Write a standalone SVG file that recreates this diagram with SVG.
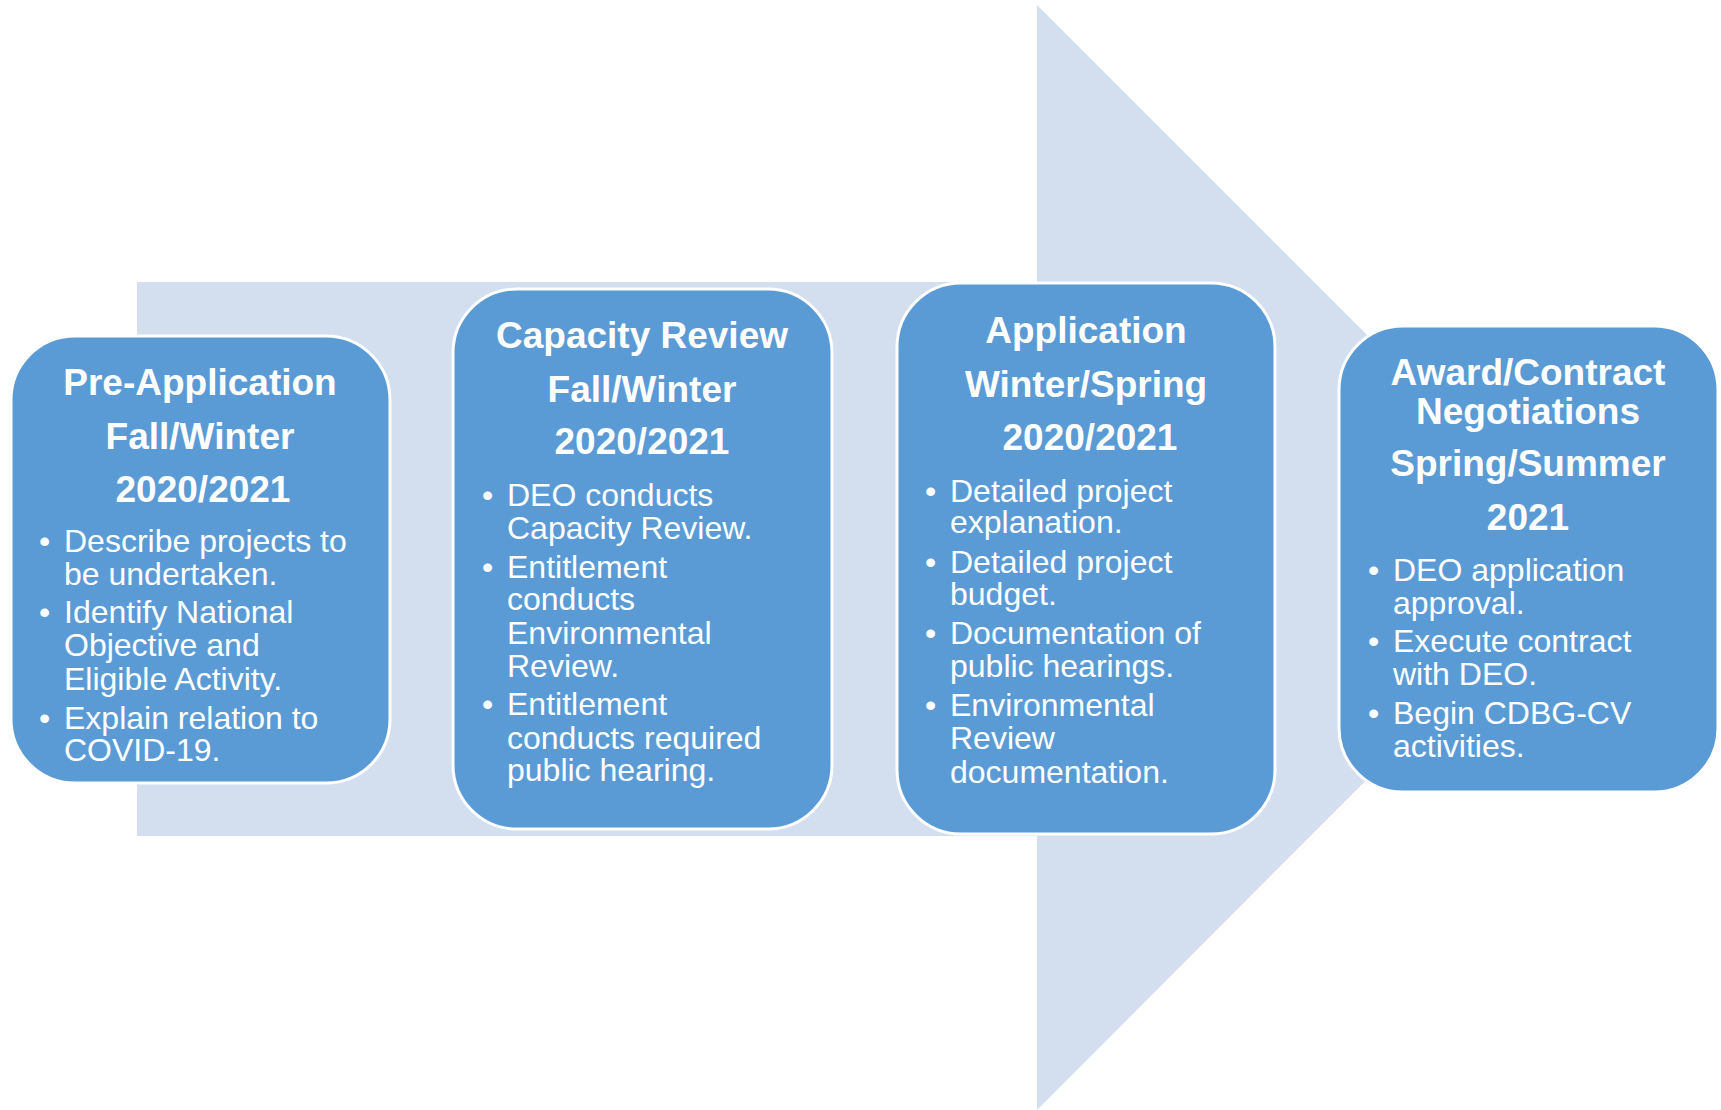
<svg xmlns="http://www.w3.org/2000/svg" width="1721" height="1110" viewBox="0 0 1721 1110">
<style>
.box{fill:#5B9BD5;stroke:#FFFFFF;stroke-width:3}
.arrow{fill:#D3DEEF}
.t{font-family:"Liberation Sans",Arial,sans-serif;font-weight:bold;font-size:37px;fill:#FFFFFF;text-anchor:middle}
.b{font-family:"Liberation Sans",Arial,sans-serif;font-size:32px;fill:#FFFFFF}
</style>
<rect width="1721" height="1110" fill="#FFFFFF"/>
<g id="connectors">
<path class="arrow" d="M137,282 L1037,282 L1037,5 L1589,557 L1037,1110 L1037,836 L137,836 Z"/>
</g>
<g id="pre-application">
<rect class="box" x="11" y="336" width="379" height="447" rx="64" ry="64"/>
<text class="t" x="200" y="395">Pre-Application</text>
<text class="t" x="200" y="449">Fall/Winter</text>
<text class="t" x="203" y="502">2020/2021</text>
<text class="b" x="39" y="552">•</text><text class="b" x="64" y="552">Describe projects to</text>
<text class="b" x="64" y="585">be undertaken.</text>
<text class="b" x="39" y="623">•</text><text class="b" x="64" y="623">Identify National</text>
<text class="b" x="64" y="656">Objective and</text>
<text class="b" x="64" y="690">Eligible Activity.</text>
<text class="b" x="39" y="729">•</text><text class="b" x="64" y="729">Explain relation to</text>
<text class="b" x="64" y="761">COVID-19.</text>
</g>
<g id="capacity-review">
<rect class="box" x="453" y="289" width="379" height="540" rx="64" ry="64"/>
<text class="t" x="642" y="348">Capacity Review</text>
<text class="t" x="642" y="402">Fall/Winter</text>
<text class="t" x="642" y="454">2020/2021</text>
<text class="b" x="482" y="506">•</text><text class="b" x="507" y="506">DEO conducts</text>
<text class="b" x="507" y="539">Capacity Review.</text>
<text class="b" x="482" y="578">•</text><text class="b" x="507" y="578">Entitlement</text>
<text class="b" x="507" y="610">conducts</text>
<text class="b" x="507" y="644">Environmental</text>
<text class="b" x="507" y="677">Review.</text>
<text class="b" x="482" y="715">•</text><text class="b" x="507" y="715">Entitlement</text>
<text class="b" x="507" y="749">conducts required</text>
<text class="b" x="507" y="781">public hearing.</text>
</g>
<g id="application">
<rect class="box" x="897" y="283" width="378" height="551" rx="64" ry="64"/>
<text class="t" x="1086" y="343">Application</text>
<text class="t" x="1086" y="397">Winter/Spring</text>
<text class="t" x="1090" y="450">2020/2021</text>
<text class="b" x="925" y="502">•</text><text class="b" x="950" y="502">Detailed project</text>
<text class="b" x="950" y="533">explanation.</text>
<text class="b" x="925" y="573">•</text><text class="b" x="950" y="573">Detailed project</text>
<text class="b" x="950" y="605">budget.</text>
<text class="b" x="925" y="644">•</text><text class="b" x="950" y="644">Documentation of</text>
<text class="b" x="950" y="677">public hearings.</text>
<text class="b" x="925" y="716">•</text><text class="b" x="950" y="716">Environmental</text>
<text class="b" x="950" y="749">Review</text>
<text class="b" x="950" y="783">documentation.</text>
</g>
<g id="award-contract">
<rect class="box" x="1339" y="326" width="379" height="466" rx="64" ry="64"/>
<text class="t" x="1528" y="385">Award/Contract</text>
<text class="t" x="1528" y="424">Negotiations</text>
<text class="t" x="1528" y="476">Spring/Summer</text>
<text class="t" x="1528" y="530">2021</text>
<text class="b" x="1368" y="581">•</text><text class="b" x="1393" y="581">DEO application</text>
<text class="b" x="1393" y="614">approval.</text>
<text class="b" x="1368" y="652">•</text><text class="b" x="1393" y="652">Execute contract</text>
<text class="b" x="1393" y="685">with DEO.</text>
<text class="b" x="1368" y="724">•</text><text class="b" x="1393" y="724">Begin CDBG-CV</text>
<text class="b" x="1393" y="757">activities.</text>
</g>
</svg>
